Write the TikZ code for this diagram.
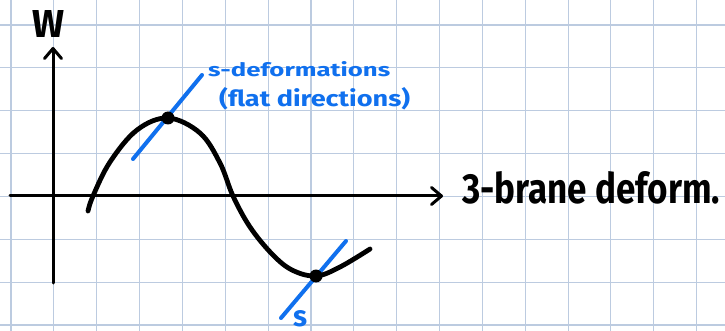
\documentclass[tikz,border=0pt]{standalone}
\usepackage{fontspec}
\setsansfont{Fira Sans}
\usetikzlibrary{arrows.meta}
\definecolor{gridc}{HTML}{BCCBE0}
\definecolor{penblue}{HTML}{1070EE}
\tikzset{
  gridline/.style={draw=gridc, line width=1.1pt},
  axisline/.style={draw=black, line width=3pt, line cap=round},
  curveline/.style={draw=black, line width=4.8pt, line cap=round, line join=round},
  tangentline/.style={draw=penblue, line width=4pt, line cap=round},
  dotnode/.style={circle, fill=black, minimum size=13pt, inner sep=0pt},
  handtext/.style={inner sep=0pt, font=\sffamily\bfseries},
  barb/.style={-{Straight Barb[length=10pt, width=17pt, line cap=round, line join=round]}}
}
\newcommand{\fitbox}[3]{\resizebox{#1}{#2}{#3}}
\begin{document}
\begin{tikzpicture}[x=1pt, y=-1pt]
\useasboundingbox[fill=white] (0,0) rectangle (725,331);
% grid
\foreach \i in {0,...,16} \draw[gridline] ({11+42.85*\i},0) -- ({11+42.85*\i},331);
\foreach \j in {0,...,7} \draw[gridline] (0,{25+42.85*\j}) -- (725,{25+42.85*\j});
% axes
\coordinate (ybot) at (53,283);
\coordinate (ytop) at (53,47);
\coordinate (xleft) at (10,196);
\coordinate (xright) at (443,196);
\draw[axisline, barb] (ybot) -- (ytop);
\draw[axisline, barb] (xleft) -- (xright);
% labels
\node[handtext, anchor=center] (W) at (49,24) {\fitbox{32pt}{27pt}{W}};
\node[handtext, anchor=base west] (xlab) at (462,203) {\fitbox{258pt}{32pt}{3-brane deform.}};
\node[handtext, anchor=base west, text=penblue] (slab1) at (208,77) {\fitbox{182pt}{15pt}{s-deformations}};
\node[handtext, anchor=base west, text=penblue] (slab2) at (219,107) {\fitbox{191pt}{19pt}{(flat directions)}};
\node[handtext, anchor=base, text=penblue] (slab3) at (300,326) {\fitbox{14pt}{16pt}{s}};
% tangent (flat) directions
\coordinate (t1a) at (133,159);
\coordinate (t1b) at (202,75);
\coordinate (t2a) at (281,318);
\coordinate (t2b) at (346,241);
\draw[tangentline] (t1a) -- (t1b);
\draw[tangentline] (t2a) -- (t2b);
% potential curve
\draw[curveline] plot[smooth, tension=0.6] coordinates {(88,211) (93,196) (110,162) (137,130) (168,118) (200,133) (220,163) (233,196) (250,227) (272,254) (292,270) (316,276) (340,267) (370,249)};
\node[dotnode] (pk) at (168,118) {};
\node[dotnode] (mn) at (316,276) {};
\end{tikzpicture}
\end{document}
